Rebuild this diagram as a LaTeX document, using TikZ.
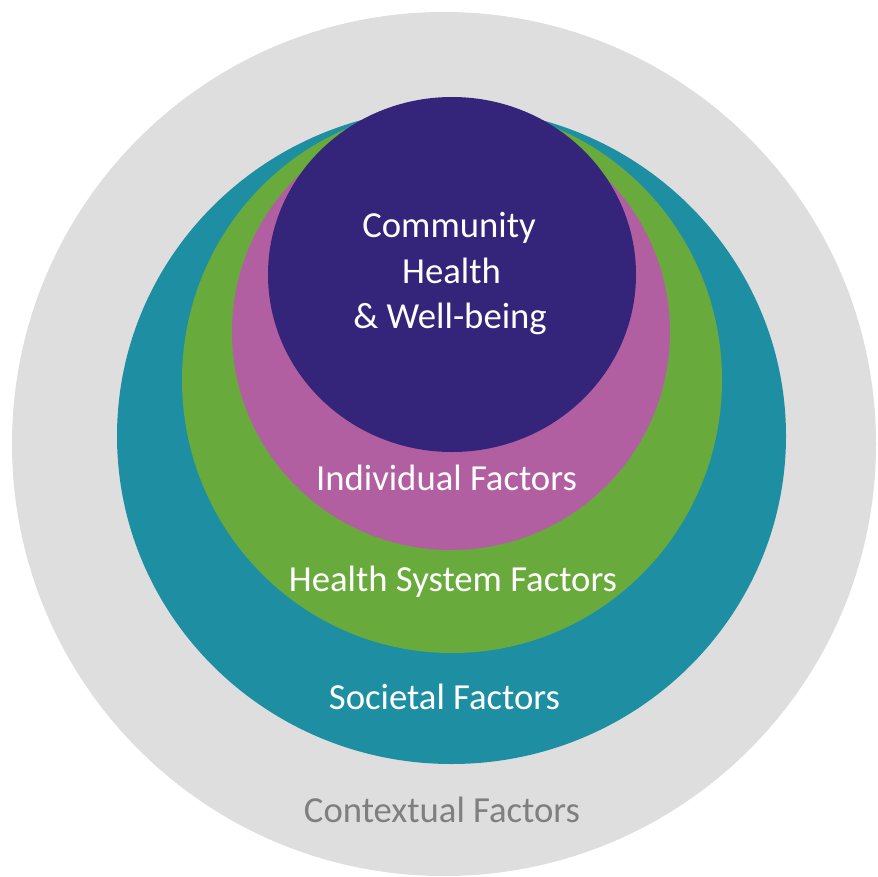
\documentclass[tikz,border=0pt]{standalone}
\usepackage{fontspec}
\setmainfont{Carlito}
\definecolor{ctxgray}{HTML}{DEDEDE}
\definecolor{societal}{HTML}{1E8FA2}
\definecolor{healthsys}{HTML}{69AA3D}
\definecolor{indiv}{HTML}{B25FA2}
\definecolor{community}{HTML}{34247A}
\definecolor{ctxtext}{HTML}{7F7F7F}
\begin{document}
\begin{tikzpicture}[x=1pt,y=-1pt,
  lbl/.style={anchor=base, inner sep=0pt, font=\fontsize{36.7}{44}\selectfont, text=white}]
\useasboundingbox (0,0) rectangle (878,876);
\fill[white] (0,0) rectangle (878,876);
\begin{scope}
  \clip (0,0) rectangle (878,876);
  \fill[ctxgray] (444,444) circle [radius=432pt];
\end{scope}
\fill[societal] (451.5,436) ellipse [x radius=334.5pt, y radius=328pt];
\fill[healthsys] (452,380) ellipse [x radius=270pt, y radius=273pt];
\fill[indiv] (451,332) ellipse [x radius=219pt, y radius=218pt];
\fill[community] (452,274.5) ellipse [x radius=184pt, y radius=177.5pt];
\node[lbl] (t1) at (449,237) {Community};
\node[lbl] (t2) at (451.5,283) {Health};
\node[lbl] (t3) at (450,328) {\& Well-being};
\node[lbl] (ind) at (446.5,490) {Individual Factors};
\node[lbl] (hsf) at (453,591) {Health System Factors};
\node[lbl] (soc) at (444.5,709) {Societal Factors};
\node[lbl, text=ctxtext] (ctx) at (442,822) {Contextual Factors};
\end{tikzpicture}
\end{document}
